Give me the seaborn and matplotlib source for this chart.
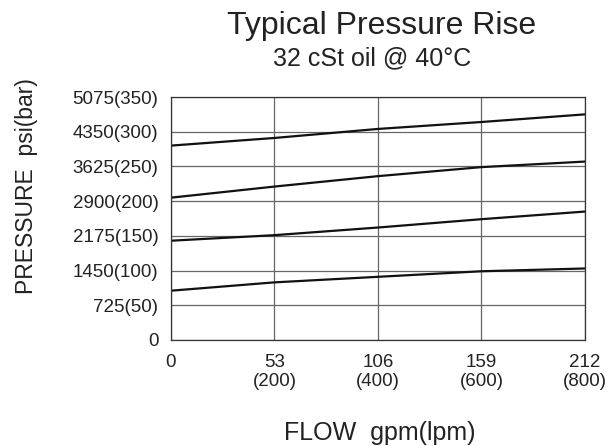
import pandas as pd
import matplotlib
matplotlib.use('Agg')
import matplotlib.pyplot as plt
import seaborn as sns

# flow in lpm, pressure rise curves in bar
flow_lpm = [0, 200, 400, 600, 800]
curve_a = [280, 291, 304, 314, 325]
curve_b = [205, 221, 236, 249, 257]
curve_c = [143, 151, 162, 174, 185]
curve_d = [71, 83, 91, 99, 103]

x_ticks = [0, 200, 400, 600, 800]
x_labels = ['0', '53\n(200)', '106\n(400)', '159\n(600)', '212\n(800)']
y_ticks = [0, 50, 100, 150, 200, 250, 300, 350]
y_labels = ['0', '725(50)', '1450(100)', '2175(150)', '2900(200)',
            '3625(250)', '4350(300)', '5075(350)']

rows = []
for name, vals in [('a', curve_a), ('b', curve_b), ('c', curve_c), ('d', curve_d)]:
    for x, y in zip(flow_lpm, vals):
        rows.append({'flow': x, 'pressure': y, 'curve': name})
df = pd.DataFrame(rows)

sns.set_style('white')
plt.rcParams['font.family'] = ['Liberation Sans', 'DejaVu Sans']

fig = plt.figure(figsize=(6.1, 4.46), dpi=100)
ax = fig.add_axes([0.2803, 0.2377, 0.6787, 0.5448])

sns.lineplot(data=df, x='flow', y='pressure', units='curve', estimator=None,
             color='#111111', linewidth=1.6, ax=ax, legend=False)

ax.set_xlim(0, 800)
ax.set_ylim(0, 350)
ax.set_xticks(x_ticks)
ax.set_xticklabels(x_labels, fontsize=13.5, color='#222222')
ax.set_yticks(y_ticks)
ax.set_yticklabels(y_labels, fontsize=13.5, color='#222222')
ax.tick_params(axis='both', length=0)
ax.tick_params(axis='x', pad=10)
ax.tick_params(axis='y', pad=9)
ax.grid(True, color='#666666', linewidth=0.9)
ax.set_axisbelow(True)
for s in ax.spines.values():
    s.set_visible(True)
    s.set_color('#333333')
    s.set_linewidth(0.9)
ax.set_xlabel('')
ax.set_ylabel('')

fig.text(0.625, 0.924, 'Typical Pressure Rise', fontsize=23, ha='center',
         va='baseline', color='#222222')
fig.text(0.6107, 0.854, '32 cSt oil @ 40°C', fontsize=18, ha='center',
         va='baseline', color='#222222')
fig.text(0.622, 0.013, 'FLOW  gpm(lpm)', fontsize=18, ha='center',
         va='baseline', color='#222222')
fig.text(0.0435, 0.583, 'PRESSURE  psi(bar)', fontsize=16.5, rotation=90,
         ha='center', va='center', color='#222222')

fig.savefig('out.png', dpi=100)
